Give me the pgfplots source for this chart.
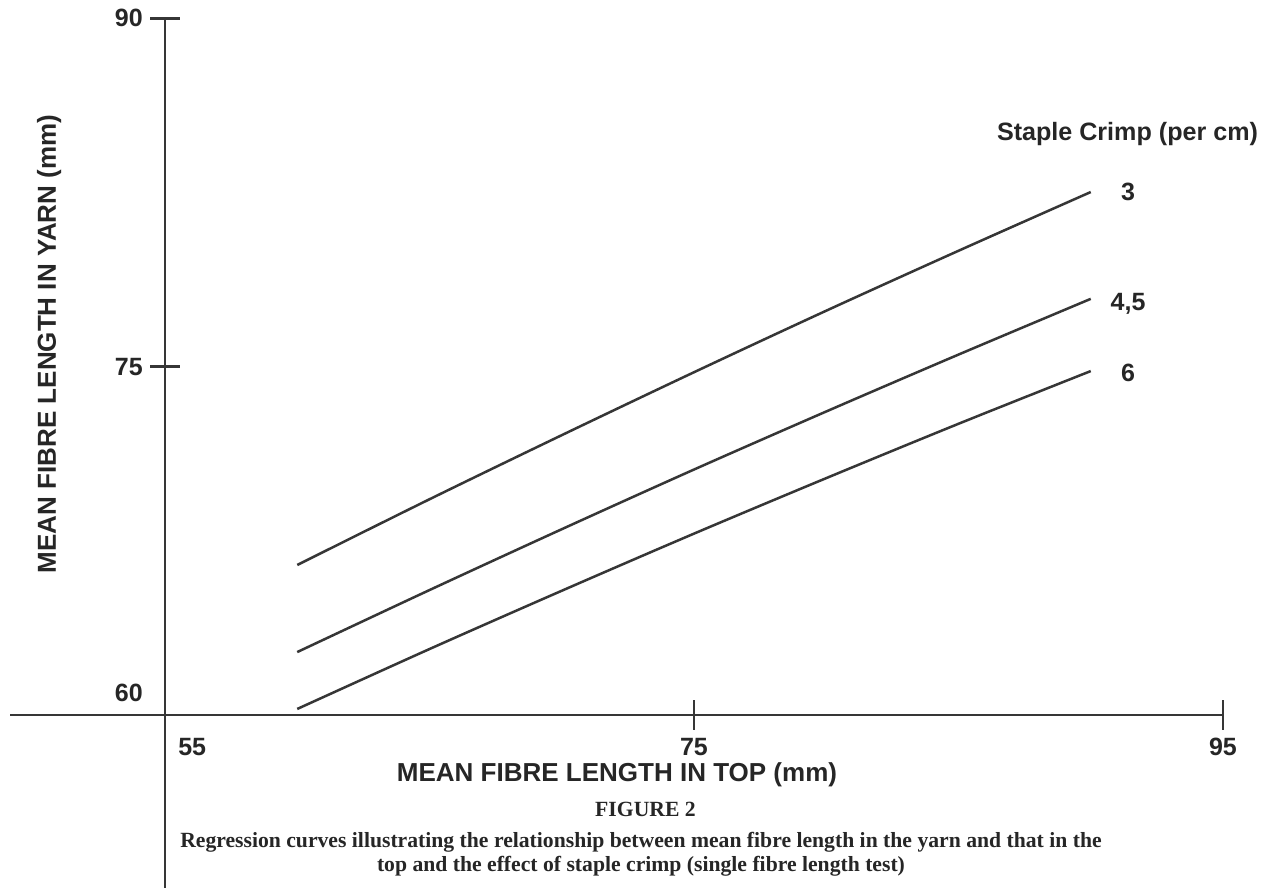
\documentclass[border=0pt]{standalone}
\usepackage{pgfplots}
\pgfplotsset{compat=1.18}
\usepackage{fontspec}
\setmainfont{Liberation Serif}
\setsansfont{Liberation Sans}
\definecolor{ink}{HTML}{262626}
\definecolor{linecol}{HTML}{363636}
\pgfplotstableread{
x y
60 66.46
65 69.29
70 72.05
75 74.76
80 77.41
85 79.99
90 82.52
}\crimpthree
\pgfplotstableread{
x y
60 62.71
65 65.38
70 68.00
75 70.57
80 73.07
85 75.52
90 77.92
}\crimpfour
\pgfplotstableread{
x y
60 60.26
65 62.84
70 65.35
75 67.81
80 70.20
85 72.54
90 74.81
}\crimpsix
\begin{document}
\begin{tikzpicture}
\path[use as bounding box] (-99pt,-103.8pt) rectangle (659.4pt,429pt);
\fill[white] (-99pt,-103.8pt) rectangle (659.4pt,429pt);
\begin{axis}[
  at={(0pt,0pt)}, anchor=south west,
  scale only axis, width=634.8pt, height=418pt,
  xmin=55, xmax=95, ymin=60, ymax=90,
  axis lines=left, axis line style={draw=none,-},
  clip=false,
  xtick={75,95}, ytick={75,90},
  tick align=center, major tick length=17.4pt,
  major tick style={line width=1.6pt, draw=linecol},
  /pgf/number format/assume math mode=true,
  tick label style={font=\sffamily\bfseries\fontsize{15}{18}\selectfont, text=ink, inner sep=0pt},
  xticklabel style={anchor=center, yshift=-10.5pt},
  yticklabel style={anchor=east, xshift=-4.5pt},
  extra x ticks={55},
  extra x tick style={major tick style={draw=none}, xticklabel style={anchor=west, xshift=7.8pt}},
  extra y ticks={60},
  extra y tick style={major tick style={draw=none}, yticklabel style={yshift=13.2pt}},
]
\draw[line width=1.5pt, linecol] (axis cs:49.14,60) -- (axis cs:95,60);
\draw[line width=1.5pt, linecol] (axis cs:55,52.55) -- (axis cs:55,90);
\addplot[smooth, line width=1.5pt, linecol] table[x=x,y=y] {\crimpthree};
\addplot[smooth, line width=1.5pt, linecol] table[x=x,y=y] {\crimpfour};
\addplot[smooth, line width=1.5pt, linecol] table[x=x,y=y] {\crimpsix};
\node[font=\sffamily\bfseries\fontsize{15}{18}\selectfont, text=ink] at (axis cs:91.41,82.52) {3};
\node[font=\sffamily\bfseries\fontsize{15}{18}\selectfont, text=ink] at (axis cs:91.41,77.70) {4,5};
\node[font=\sffamily\bfseries\fontsize{15}{18}\selectfont, text=ink] at (axis cs:91.41,74.73) {6};
\end{axis}
\node[anchor=base, font=\sffamily\bfseries\fontsize{15.6}{18}\selectfont, text=ink, inner sep=0pt] at (271.2pt,-40.2pt) {MEAN FIBRE LENGTH IN TOP (mm)};
\node[anchor=base, rotate=90, font=\sffamily\bfseries\fontsize{15.6}{18}\selectfont, text=ink, inner sep=0pt] at (-65.4pt,222.6pt) {MEAN FIBRE LENGTH IN YARN (mm)};
\node[anchor=base, font=\sffamily\bfseries\fontsize{15.07}{18}\selectfont, text=ink, inner sep=0pt] at (577.5pt,344.4pt) {Staple Crimp (per cm)};
\node[anchor=base, font=\rmfamily\bfseries\fontsize{13}{14.4}\selectfont, text=ink, inner sep=0pt] at (288.3pt,-61.2pt) {FIGURE 2};
\node[anchor=base, align=center, font=\rmfamily\bfseries\fontsize{13}{14.4}\selectfont, text=ink, inner sep=0pt] at (285.6pt,-94.2pt) {Regression curves illustrating the relationship between mean fibre length in the yarn and that in the\\top and the effect of staple crimp (single fibre length test)};
\end{tikzpicture}
\end{document}
